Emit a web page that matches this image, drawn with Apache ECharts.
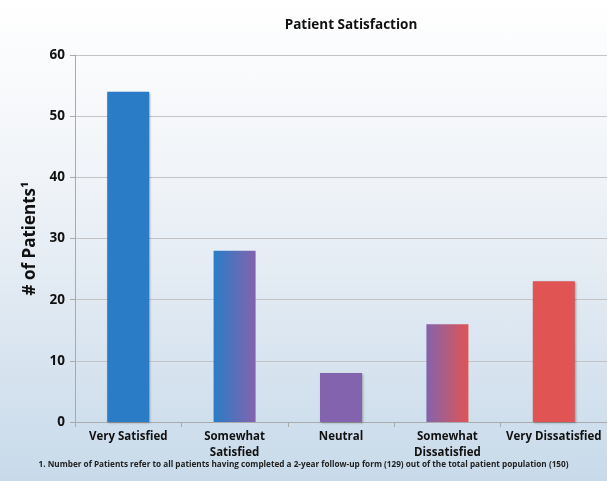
<!DOCTYPE html>
<html>
<head>
<meta http-equiv="content-type" content="text/html; charset=utf-8"/>
<title>Patient Satisfaction</title>
<style type="text/css">body,html{width:100%;height:100%;margin:0}#chart{width:607px;height:481px;background:linear-gradient(to bottom,#ffffff 0%,#f1f4f8 35%,#c8daea 100%)}</style>
<script src="https://cdn.jsdelivr.net/npm/echarts@6/dist/echarts.min.js"></script>
</head>
<body>
<div id="chart"></div>
<script>
	var categories = ["Very Satisfied", "Somewhat\nSatisfied", "Neutral", "Somewhat\nDissatisfied", "Very Dissatisfied"];
	var patients = [54, 28, 8, 16, 23];
	var yTicks = [0, 10, 20, 30, 40, 50, 60];

	var blue = "#2b7cc6", purple = "#8363ad", red = "#e05454";
	function grad(a, b) {
		return new echarts.graphic.LinearGradient(0, 0, 1, 0, [{offset: 0, color: a}, {offset: 1, color: b}]);
	}
	//每根柱子的颜色
	var fills = [blue, grad(blue, purple), purple, grad(purple, red), red];

	var font = "'Open Sans', sans-serif";
	var myChart = echarts.init(document.getElementById("chart"));
	var option = {
		textStyle: {fontFamily: font},
		title: {
			text: "Patient Satisfaction",
			left: 346, top: 13, textAlign: "center",
			textStyle: {fontSize: 13.5, fontWeight: "bold", color: "#111", fontFamily: font}
		},
		graphic: [{
			type: "text", left: "center", top: 461,
			style: {
				text: "1. Number of Patients refer to all patients having completed a 2-year follow-up form (129) out of the total patient population (150)",
				fontSize: 8.2, fontWeight: "bold", fill: "#222", fontFamily: font
			}
		}],
		grid: {left: 75, right: 0, top: 55, bottom: 59},
		xAxis: {
			type: "category",
			data: categories,
			axisLine: {lineStyle: {color: "#aaa"}},
			axisTick: {show: true, length: 5, lineStyle: {color: "#aaa"}},
			axisLabel: {fontSize: 11.5, fontWeight: "bold", color: "#111", lineHeight: 16, margin: 7, interval: 0}
		},
		yAxis: {
			type: "value",
			min: yTicks[0], max: yTicks[yTicks.length - 1], interval: 10,
			name: "# of Patients\u00b9",
			nameLocation: "middle", nameGap: 36, nameRotate: 90,
			nameTextStyle: {fontSize: 17, fontWeight: "bold", color: "#111"},
			axisLine: {show: true, lineStyle: {color: "#aaa"}},
			axisTick: {show: true, length: 5, lineStyle: {color: "#aaa"}},
			axisLabel: {fontSize: 13.5, fontWeight: "bold", color: "#111", margin: 10},
			splitLine: {lineStyle: {color: "#c4c4c4"}}
		},
		series: [{
			type: "bar",
			barWidth: 42,
			data: patients.map(function (v, i) {
				return {value: v, itemStyle: {color: fills[i], shadowColor: "rgba(0,0,0,0.3)", shadowBlur: 2, shadowOffsetX: 1, shadowOffsetY: 1}};
			})
		}]
	};
	myChart.setOption(option);
</script>
</body>
</html>
